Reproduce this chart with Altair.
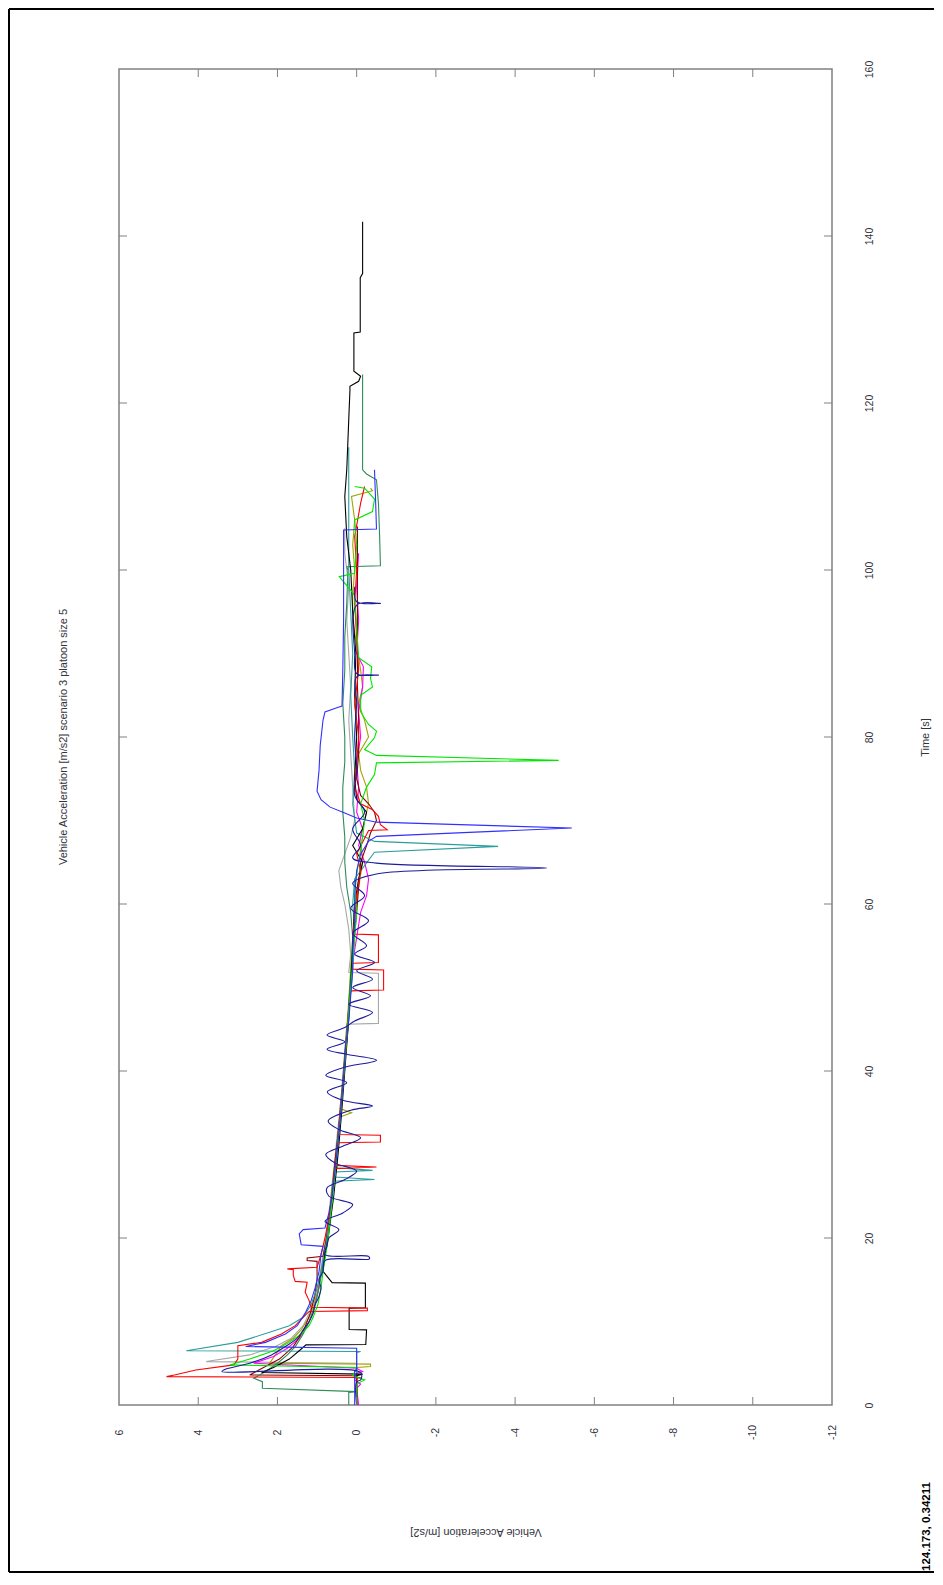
import altair as alt
import pandas as pd

# ---------------- data (time [s], acceleration [m/s2]) ----------------
black_t = [0, 3.5, 3.7, 3.9, 4.5, 5.5, 6.5, 7.2, 7.25, 9.0, 9.05, 11.6, 11.65, 14.6, 14.65, 16, 18, 20, 25, 30, 35, 40, 45, 50, 55, 60, 63, 65, 67, 69, 71, 72.5, 75, 80, 85, 90, 95, 100, 104, 108.8, 112, 118, 121.5, 122, 122.6, 123.2, 123.8, 128.4, 128.5, 135, 135.5, 141.7]
black_a = [0, 0, -0.15, 2.4, 2.1, 1.7, 1.45, 1.28, -0.23, -0.25, 0.19, 0.19, -0.22, -0.22, 0.62, 0.85, 0.8, 0.72, 0.58, 0.47, 0.38, 0.3, 0.22, 0.15, 0.1, 0.05, -0.05, -0.15, 0.1, -0.15, -0.25, 0.0, 0.05, 0.0, 0.05, 0.02, 0.1, 0.15, 0.25, 0.3, 0.25, 0.2, 0.17, 0.17, -0.05, -0.1, 0.07, 0.07, -0.09, -0.09, -0.15, -0.15]

red_t = [0, 3.2, 3.3, 3.4, 3.6, 4.2, 4.8, 5.5, 7.1, 7.5, 8.5, 9.5, 10.5, 11.2, 11.3, 11.6, 11.7, 12.5, 13.5, 14.7, 14.8, 15.5, 16.2, 16.3, 16.5, 18, 20, 22, 24, 26, 28.3, 28.5, 28.7, 30, 31.4, 31.5, 32.3, 32.4, 35, 38, 41, 44, 47, 49.6, 49.7, 52.1, 52.2, 52.9, 53.0, 56.3, 56.4, 58, 61, 64, 66, 68.8, 68.9, 69.5, 70.5, 71.3, 72, 74, 77, 80, 84, 88, 92, 96, 100, 104, 108, 110]
red_a = [0, 0, -0.1, 4.8, 4.6, 4.06, 3.1, 3.0, 3.0, 2.4, 1.9, 1.55, 1.35, 1.2, -0.27, -0.27, 1.15, 1.2, 1.3, 1.25, 1.55, 1.6, 1.6, 1.75, 1.0, 0.9, 0.8, 0.72, 0.65, 0.6, 0.55, -0.5, 0.55, 0.5, 0.48, -0.6, -0.6, 0.45, 0.42, 0.35, 0.3, 0.25, 0.2, 0.15, -0.68, -0.68, 0.1, 0.1, -0.55, -0.55, 0.1, 0.05, 0.0, -0.1, 0.0, -0.3, -0.77, -0.6, -0.55, -0.4, -0.1, 0.05, 0.0, -0.05, 0.05, -0.05, 0.0, 0.05, 0.0, 0.05, -0.1, -0.2]

navy_t = [0, 2.8, 3.0, 3.9, 4.0, 4.3, 5, 6, 7, 8, 9, 10, 11, 12, 13, 14, 15, 16, 17.3, 17.5, 17.8, 18, 19, 20, 21, 22, 23, 24, 25, 26, 27, 28, 29, 30, 31, 32, 33, 34, 35.3, 35.8, 36.5, 37.5, 38.6, 39.5, 40.4, 41.3, 42, 42.6, 43.5, 44.3, 45.2, 46, 47, 48, 49, 50, 51, 52, 53, 54, 55, 56.5, 58, 59.5, 61, 62.5, 63.6, 64.3, 64.9, 65.5, 67, 69, 71, 73, 76, 80, 84, 87.2, 87.4, 87.6, 90, 95.8, 96.0, 96.2, 98]
navy_a = [0, 0, -0.1, -0.1, 3.4, 3.3, 2.7, 2.15, 1.8, 1.5, 1.35, 1.2, 1.1, 1.05, 0.95, 0.9, 0.95, 0.85, 0.8, -0.32, -0.3, 0.8, 0.75, 0.7, 0.45, 0.8, 0.35, 0.1, 0.7, 0.75, 0.3, 0.0, 0.55, 0.78, 0.35, -0.1, 0.45, 0.72, 0.15, -0.4, 0.35, 0.74, 0.25, 0.78, 0.35, -0.5, 0.25, 0.75, 0.3, 0.75, 0.3, 0.05, -0.4, 0.2, -0.35, 0.1, -0.4, 0.0, -0.45, 0.05, -0.25, 0.1, -0.3, 0.15, -0.2, 0.1, -0.5, -4.8, -0.5, 0.1, -0.1, 0.1, -0.2, 0.05, 0.0, 0.05, 0.0, 0.0, -0.55, 0.0, 0.05, 0.0, -0.6, 0.0, 0.05]

blue_t = [0, 4.0, 4.2, 6.8, 7.0, 7.5, 8.5, 9.5, 11, 12.5, 14, 16, 18, 19, 19.2, 20.5, 21, 21.2, 23, 25, 28, 31, 34, 37, 40, 43, 46, 49, 52, 55, 58, 61, 64, 66, 67.5, 68.1, 69.1, 69.8, 70.3, 70.9, 71.6, 72.5, 73.5, 76, 79, 82, 83, 83.5, 83.7, 88, 94, 100, 104.8, 104.9, 108, 112]
blue_a = [0.05, 0.05, 0.0, 0.0, 2.8, 2.3, 1.8, 1.5, 1.3, 1.15, 1.05, 0.95, 0.9, 0.85, 1.4, 1.45, 1.35, 0.8, 0.7, 0.62, 0.55, 0.48, 0.42, 0.37, 0.32, 0.28, 0.2, 0.15, 0.1, 0.1, 0.05, 0.05, 0.0, -0.1, -0.3, -0.5, -5.43, -0.5, 0.0, 0.3, 0.67, 0.9, 1.0, 0.95, 0.92, 0.85, 0.8, 0.5, 0.37, 0.35, 0.33, 0.33, 0.33, -0.5, -0.48, -0.45]

green_t = [0, 2.5, 3.0, 3.5, 4.5, 4.8, 5.5, 6.5, 7.5, 8.5, 9.5, 10.5, 12, 14, 16, 18, 20, 23, 26, 29, 32, 35, 38, 41, 44, 47, 50, 53, 56, 59, 62, 65, 68, 70, 72, 74, 75.5, 76.9, 77.2, 77.8, 78.5, 79.9, 80.7, 81.5, 83, 85, 86, 87, 88.4, 89.5, 93, 97, 99.2, 99.6, 103, 106, 107, 108.5, 109.8, 110]
green_a = [0, 0, -0.2, 0.1, 0.0, 3.2, 2.7, 2.1, 1.7, 1.4, 1.2, 1.1, 0.98, 0.9, 0.85, 0.78, 0.72, 0.65, 0.58, 0.52, 0.46, 0.4, 0.35, 0.3, 0.25, 0.2, 0.15, 0.1, 0.05, 0.0, 0.05, -0.05, -0.15, -0.2, -0.1, -0.25, -0.45, -0.5, -5.1, -0.5, -0.2, -0.45, -0.5, -0.3, -0.1, -0.1, -0.4, -0.35, -0.38, -0.05, 0.0, 0.05, 0.44, 0.05, 0.0, 0.05, -0.4, -0.45, -0.2, 0.05]

teal_t = [0, 6.3, 6.4, 6.5, 7.5, 8.8, 9.5, 10.5, 12, 14, 16, 18, 20, 23, 26.8, 27.0, 27.3, 27.9, 28.1, 28.4, 30, 33, 36, 39, 42, 45, 48, 51, 54, 57, 60, 63, 66.2, 66.9, 67.5, 68.5, 72, 76, 80, 85, 90, 95, 100, 105, 110, 114.7]
teal_a = [0, 0, -0.1, 4.3, 3.0, 2.14, 1.7, 1.35, 1.15, 1.0, 0.9, 0.82, 0.75, 0.68, 0.6, -0.45, 0.55, 0.55, -0.4, 0.5, 0.5, 0.45, 0.4, 0.33, 0.28, 0.22, 0.18, 0.12, 0.08, 0.05, 0.1, 0.05, -0.45, -3.57, -0.45, 0.0, 0.1, 0.05, 0.1, 0.15, 0.1, 0.15, 0.2, 0.2, 0.2, 0.2]

seagreen_t = [0, 1.5, 1.6, 2.0, 2.8, 3.2, 4, 5, 6, 7, 8.5, 10, 12, 14, 16, 18, 20, 23, 26, 29, 32, 35, 38, 41, 44, 47, 50, 53, 56, 59, 62, 65, 68, 71, 74, 77, 80, 84, 88, 92, 96, 100, 100.4, 100.5, 104, 108, 110.8, 111.5, 112, 118, 123.4]
seagreen_a = [0.2, 0.2, 0.0, 2.38, 2.38, 2.6, 2.3, 2.0, 1.75, 1.55, 1.35, 1.2, 1.05, 0.95, 0.88, 0.8, 0.74, 0.66, 0.6, 0.53, 0.47, 0.41, 0.36, 0.31, 0.26, 0.21, 0.17, 0.13, 0.1, 0.15, 0.25, 0.3, 0.3, 0.35, 0.35, 0.3, 0.3, 0.35, 0.3, 0.3, 0.25, 0.22, 0.25, -0.6, -0.58, -0.55, -0.5, -0.25, -0.15, -0.15, -0.15]

magenta_t = [0, 2.0, 2.5, 3.0, 3.8, 4.0, 4.4, 5.0, 5.8, 6.8, 8, 9.5, 11, 13, 15, 17, 20, 23, 26, 29, 32, 35, 38, 41, 44, 47, 50, 53, 56, 59, 61, 63, 65, 67, 69, 71, 74, 77, 80, 83, 86, 88.4, 90, 94, 98, 102]
magenta_a = [-0.05, 0.0, -0.1, 0.05, 0.0, -0.15, 0.0, 2.6, 2.1, 1.75, 1.45, 1.25, 1.1, 1.0, 0.92, 0.85, 0.76, 0.68, 0.6, 0.54, 0.47, 0.41, 0.35, 0.3, 0.25, 0.2, 0.15, 0.1, 0.0, -0.1, -0.25, -0.3, -0.2, -0.05, -0.15, 0.0, -0.05, 0.0, -0.1, -0.05, -0.15, -0.17, 0.0, -0.05, 0.0, -0.05]

olive_t = [0, 4.5, 4.6, 4.9, 5.0, 6.0, 7.1, 8, 9, 10.5, 12, 14, 16, 18, 20, 23, 26, 29, 32, 34.5, 35.0, 35.5, 38, 41, 44, 47, 50, 53, 56, 59, 62, 65, 68, 70, 72, 74, 76, 78, 80, 82, 84, 86, 88, 91, 94, 97, 100, 103, 106, 108.8, 109.5, 109.8]
olive_a = [0, 0, -0.35, -0.35, 2.2, 2.05, 1.9, 1.6, 1.4, 1.2, 1.08, 0.97, 0.9, 0.82, 0.76, 0.68, 0.62, 0.55, 0.48, 0.42, 0.13, 0.42, 0.37, 0.32, 0.27, 0.22, 0.18, 0.14, 0.1, 0.05, -0.05, -0.15, -0.1, -0.2, -0.3, -0.25, -0.1, -0.05, -0.3, -0.2, -0.05, -0.15, -0.1, 0.0, 0.1, 0.1, 0.05, 0.1, 0.05, 0.13, -0.4, -0.35]

gray_t = [0, 5.0, 5.2, 6, 7, 8, 9.5, 11, 13, 15, 17, 20, 23, 26, 29, 32, 35, 38, 41, 45.6, 45.7, 51.7, 51.8, 54, 57, 60, 62, 64, 66, 68, 70, 74, 78, 82, 86, 90, 94, 98, 102, 105]
gray_a = [0, 0, 3.8, 2.7, 2.05, 1.65, 1.35, 1.2, 1.05, 0.95, 0.88, 0.78, 0.7, 0.63, 0.56, 0.5, 0.43, 0.37, 0.32, 0.25, -0.55, -0.55, 0.2, 0.15, 0.2, 0.3, 0.4, 0.45, 0.3, 0.15, 0.05, 0.1, 0.15, 0.2, 0.15, 0.2, 0.25, 0.2, 0.3, 0.3]

maroon_t = [0, 3.5, 3.6, 4.5, 5.5, 7, 9, 11, 13, 15, 17.2, 17.3, 17.6, 17.8, 20, 23, 26, 29, 32, 35, 38, 41, 44, 47, 50, 53, 56, 59, 62, 65, 67, 68.5, 70, 71, 72, 73, 75, 78, 82, 86, 90, 94.4, 100, 105.2]
maroon_a = [0, 0, 2.7, 2.35, 1.95, 1.6, 1.33, 1.17, 1.06, 1.0, 1.0, 1.25, 1.25, 0.85, 0.76, 0.68, 0.61, 0.55, 0.48, 0.42, 0.36, 0.31, 0.26, 0.21, 0.16, 0.12, 0.06, 0.0, -0.05, -0.1, -0.25, -0.35, -0.5, -0.45, -0.3, -0.1, 0.0, -0.05, -0.05, -0.02, -0.02, -0.02, -0.02, -0.02]

series_names = ["gray", "olive", "magenta", "maroon", "seagreen", "teal", "black", "red", "green", "navy", "blue"]
series_colors = ["#a8a8a8", "#a3a300", "#ff00ff", "#8b0000", "#2e8b57", "#2a9d9d", "#000000", "#ff0000", "#00e600", "#1c1c9c", "#3030ff"]

accel_ticks = [6, 4, 2, 0, -2, -4, -6, -8, -10, -12]
time_ticks = [0, 20, 40, 60, 80, 100, 120, 140, 160]
inner_accel_ticks = [4, 2, 0, -2, -4, -6, -8, -10]
inner_time_ticks = [20, 40, 60, 80, 100, 120, 140]

chart_title = "Vehicle Acceleration [m/s2] scenario 3 platoon size 5"
x_title = "Vehicle Acceleration [m/s2]"
y_title = "Time [s]"
datatip = "124.173, 0.34211"

# ---------------- build ----------------
data = {
    "gray": (gray_t, gray_a), "olive": (olive_t, olive_a), "magenta": (magenta_t, magenta_a),
    "maroon": (maroon_t, maroon_a), "seagreen": (seagreen_t, seagreen_a), "teal": (teal_t, teal_a),
    "black": (black_t, black_a), "red": (red_t, red_a), "green": (green_t, green_a),
    "navy": (navy_t, navy_a), "blue": (blue_t, blue_a),
}
rows = []
for name in series_names:
    ts, accs = data[name]
    for i, (t, a) in enumerate(zip(ts, accs)):
        rows.append({"s": name, "t": t, "a": a, "o": i})
df = pd.DataFrame(rows)

W, H = 713, 1336
FONT = "Liberation Sans"
TXT = "#333340"
FRAME = "#808080"

xscale = alt.Scale(domain=[-12, 6], reverse=True, nice=False, zero=False)
yscale = alt.Scale(domain=[0, 160], nice=False, zero=False)

x_axis = alt.Axis(
    values=accel_ticks, title=x_title, orient="bottom", labelAngle=270,
    labelAlign="center", labelBaseline="middle", labelPadding=27, tickSize=0,
    ticks=False, domain=False, grid=False, labelExpr="datum.value + ''",
    labelFont=FONT, labelFontSize=10.5, labelColor=TXT, labelOverlap=False, labelFlush=False,
    titleFont=FONT, titleFontSize=11, titleFontWeight="normal", titleColor=TXT,
    titleAngle=180, titleX=W / 2, titleY=126, titleAlign="center", titleBaseline="middle")
y_axis = alt.Axis(
    values=time_ticks, title=y_title, orient="right", labelAngle=270,
    labelAlign="center", labelBaseline="middle", labelPadding=37, tickSize=0,
    ticks=False, domain=False, grid=False, labelExpr="datum.value + ''",
    labelFont=FONT, labelFontSize=10.5, labelColor=TXT, labelOverlap=False, labelFlush=False,
    titleFont=FONT, titleFontSize=11, titleFontWeight="normal", titleColor=TXT,
    titleAngle=270, titleX=93, titleY=H / 2, titleAlign="center", titleBaseline="middle")

color_enc = alt.Color("s:N", scale=alt.Scale(domain=series_names, range=series_colors), legend=None)

lines = alt.Chart(df).transform_filter("datum.s != 'navy'").mark_line(strokeWidth=1.1, clip=True).encode(
    x=alt.X("a:Q", scale=xscale, axis=x_axis, title=x_title),
    y=alt.Y("t:Q", scale=yscale, axis=y_axis, title=y_title),
    color=color_enc,
    order=alt.Order("o:Q"),
)
navy_line = alt.Chart(df).transform_filter("datum.s == 'navy'").mark_line(
    strokeWidth=1.1, clip=True, interpolate="catmull-rom").encode(
    x=alt.X("a:Q", scale=xscale, axis=x_axis, title=x_title),
    y=alt.Y("t:Q", scale=yscale, axis=y_axis, title=y_title),
    color=color_enc,
    order=alt.Order("o:Q"),
)

xt = pd.DataFrame({"a": inner_accel_ticks})
yt = pd.DataFrame({"t": inner_time_ticks})
top_ticks = alt.Chart(xt).mark_rule(color=FRAME, strokeWidth=1).encode(
    x=alt.X("a:Q", scale=xscale, axis=x_axis, title=x_title), y=alt.value(0), y2=alt.value(8))
bot_ticks = alt.Chart(xt).mark_rule(color=FRAME, strokeWidth=1).encode(
    x=alt.X("a:Q", scale=xscale, axis=x_axis, title=x_title), y=alt.value(H - 8), y2=alt.value(H))
left_ticks = alt.Chart(yt).mark_rule(color=FRAME, strokeWidth=1).encode(
    y=alt.Y("t:Q", scale=yscale, axis=y_axis, title=y_title), x=alt.value(0), x2=alt.value(8))
right_ticks = alt.Chart(yt).mark_rule(color=FRAME, strokeWidth=1).encode(
    y=alt.Y("t:Q", scale=yscale, axis=y_axis, title=y_title), x=alt.value(W - 8), x2=alt.value(W))

title_df = pd.DataFrame({"label": [chart_title]})
title_mark = alt.Chart(title_df).mark_text(
    angle=270, align="center", baseline="middle", font=FONT, fontSize=11, color=TXT
).encode(text="label:N", x=alt.value(-55), y=alt.value(H / 2))

tip_df = pd.DataFrame({"label": [datatip]})
tip_mark = alt.Chart(tip_df).mark_text(
    angle=270, align="left", baseline="middle", font=FONT, fontSize=11.5, fontWeight="bold", color="#000000"
).encode(text="label:N", x=alt.value(808), y=alt.value(1502))

frame_df = pd.DataFrame({"k": [0]})
frame_top = alt.Chart(frame_df).mark_rule(color="#000000", strokeWidth=2).encode(
    x=alt.value(-110), x2=alt.value(816), y=alt.value(-60))
frame_left = alt.Chart(frame_df).mark_rule(color="#000000", strokeWidth=2).encode(
    x=alt.value(-110), y=alt.value(-60), y2=alt.value(1503))
frame_bottom = alt.Chart(frame_df).mark_rule(color="#000000", strokeWidth=2).encode(
    x=alt.value(-110), x2=alt.value(816), y=alt.value(1503))

chart = alt.layer(
    lines, navy_line, top_ticks, bot_ticks, left_ticks, right_ticks,
    title_mark, tip_mark, frame_top, frame_left, frame_bottom
).properties(
    width=W, height=H,
    autosize=alt.AutoSizeParams(type="none"),
    padding={"left": 111, "top": 61, "right": 102, "bottom": 168},
).configure_view(stroke=FRAME, strokeWidth=1.5)

chart.save("out.html", embed_options={"renderer": "svg", "actions": False})
